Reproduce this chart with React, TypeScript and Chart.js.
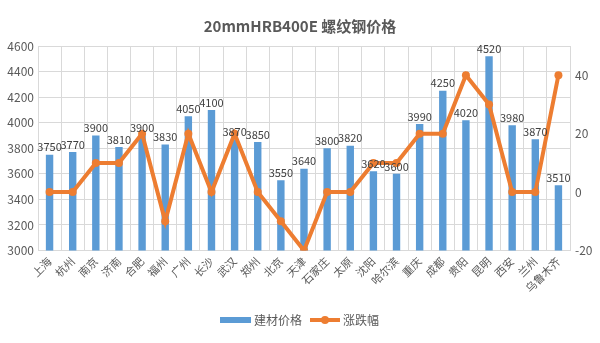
import React, { useEffect, useRef } from "react";
import { Chart, registerables } from "chart.js";
Chart.register(...registerables);

const titleText = "20mmHRB400E 螺纹钢价格";
const categories = ["上海", "杭州", "南京", "济南", "合肥", "福州", "广州", "长沙", "武汉", "郑州", "北京", "天津", "石家庄", "太原", "沈阳", "哈尔滨", "重庆", "成都", "贵阳", "昆明", "西安", "兰州", "乌鲁木齐"];
const prices = [3750, 3770, 3900, 3810, 3900, 3830, 4050, 4100, 3870, 3850, 3550, 3640, 3800, 3820, 3620, 3600, 3990, 4250, 4020, 4520, 3980, 3870, 3510];
const changes = [0, 0, 10, 10, 20, -10, 20, 0, 20, 0, -10, -20, 0, 0, 10, 10, 20, 20, 40, 30, 0, 0, 40];
const seriesNames = ["建材价格", "涨跌幅"];
const leftTicks = [3000, 3200, 3400, 3600, 3800, 4000, 4200, 4400, 4600];
const rightTicks = [-20, 0, 20, 40];

const FONT = "'Noto Sans CJK SC', 'Noto Sans', sans-serif";
const BLUE = "#5B9BD5";
const ORANGE = "#ED7D31";
const TXT = "#595959";
const GRID = "#d9d9d9";

const dataLabels = {
  id: "dataLabels",
  afterDatasetsDraw(chart: any) {
    const meta = chart.getDatasetMeta(0);
    const ctx = chart.ctx;
    ctx.save();
    ctx.font = `11px ${FONT}`;
    ctx.fillStyle = "#404040";
    ctx.textAlign = "center";
    ctx.textBaseline = "bottom";
    meta.data.forEach((el: any, i: number) => {
      ctx.fillText(String(prices[i]), el.x, el.y - 2);
    });
    ctx.restore();
  },
};

const customLegend = {
  id: "customLegend",
  afterDraw(chart: any) {
    const ctx = chart.ctx;
    const cy = 320;
    ctx.save();
    ctx.font = `12px ${FONT}`;
    ctx.textBaseline = "middle";
    ctx.textAlign = "left";
    ctx.fillStyle = BLUE;
    ctx.fillRect(220, cy - 3, 31, 6);
    ctx.fillStyle = TXT;
    ctx.fillText(seriesNames[0], 254, cy);
    ctx.strokeStyle = ORANGE;
    ctx.lineWidth = 4;
    ctx.beginPath();
    ctx.moveTo(310, cy);
    ctx.lineTo(340, cy);
    ctx.stroke();
    ctx.fillStyle = ORANGE;
    ctx.beginPath();
    ctx.arc(325, cy, 4, 0, Math.PI * 2);
    ctx.fill();
    ctx.fillStyle = TXT;
    ctx.fillText(seriesNames[1], 343, cy);
    ctx.restore();
  },
};

export default function App() {
  const ref = useRef<HTMLCanvasElement | null>(null);
  useEffect(() => {
    document.body.style.margin = "0";
    const chart = new Chart(ref.current as HTMLCanvasElement, {
      type: "bar",
      data: {
        labels: categories,
        datasets: [
          {
            type: "bar",
            label: seriesNames[0],
            data: prices,
            backgroundColor: BLUE,
            yAxisID: "y",
            barPercentage: 0.32,
            categoryPercentage: 1,
            order: 1,
          },
          {
            type: "line",
            label: seriesNames[1],
            data: changes,
            borderColor: ORANGE,
            backgroundColor: ORANGE,
            borderWidth: 4,
            pointRadius: 4,
            pointBackgroundColor: ORANGE,
            pointBorderWidth: 0,
            yAxisID: "y1",
            order: 0,
            tension: 0,
          } as any,
        ],
      },
      options: {
        animation: false,
        responsive: false,
        maintainAspectRatio: false,
        layout: { padding: { left: 0, right: 0, top: 0, bottom: 44 } },
        plugins: {
          legend: { display: false },
          tooltip: { enabled: false },
          title: {
            display: true,
            text: titleText,
            color: TXT,
            font: { family: FONT, size: 15, weight: "bold" },
            padding: { top: 17, bottom: 11 },
          },
        },
        scales: {
          x: {
            grid: { color: GRID, offset: true, drawTicks: false },
            border: { color: GRID },
            ticks: {
              color: TXT,
              font: { family: FONT, size: 11 },
              minRotation: 45,
              maxRotation: 45,
              autoSkip: false,
              padding: 4,
            },
          },
          y: {
            position: "left",
            min: leftTicks[0],
            max: leftTicks[leftTicks.length - 1],
            afterBuildTicks(axis: any) {
              axis.ticks = leftTicks.map((v) => ({ value: v }));
            },
            afterFit(axis: any) {
              axis.width = 38;
            },
            grid: { color: GRID, drawTicks: false },
            border: { display: false },
            ticks: {
              color: TXT,
              font: { family: FONT, size: 12 },
              padding: 4,
              callback: (v: any) => String(v),
            },
          },
          y1: {
            position: "right",
            min: -20,
            max: 50,
            afterBuildTicks(axis: any) {
              axis.ticks = rightTicks.map((v) => ({ value: v }));
            },
            afterFit(axis: any) {
              axis.width = 30;
            },
            grid: { display: false, drawTicks: false },
            border: { display: false },
            ticks: {
              color: TXT,
              font: { family: FONT, size: 12 },
              padding: 5,
              callback: (v: any) => String(v),
            },
          },
        },
      },
      plugins: [dataLabels, customLegend],
    });
    return () => chart.destroy();
  }, []);
  return (
    <div style={{ position: "absolute", left: 0, top: 0, width: 600, height: 343, background: "#fff" }}>
      <canvas ref={ref} width={600} height={343} style={{ width: 600, height: 343 }} />
    </div>
  );
}
